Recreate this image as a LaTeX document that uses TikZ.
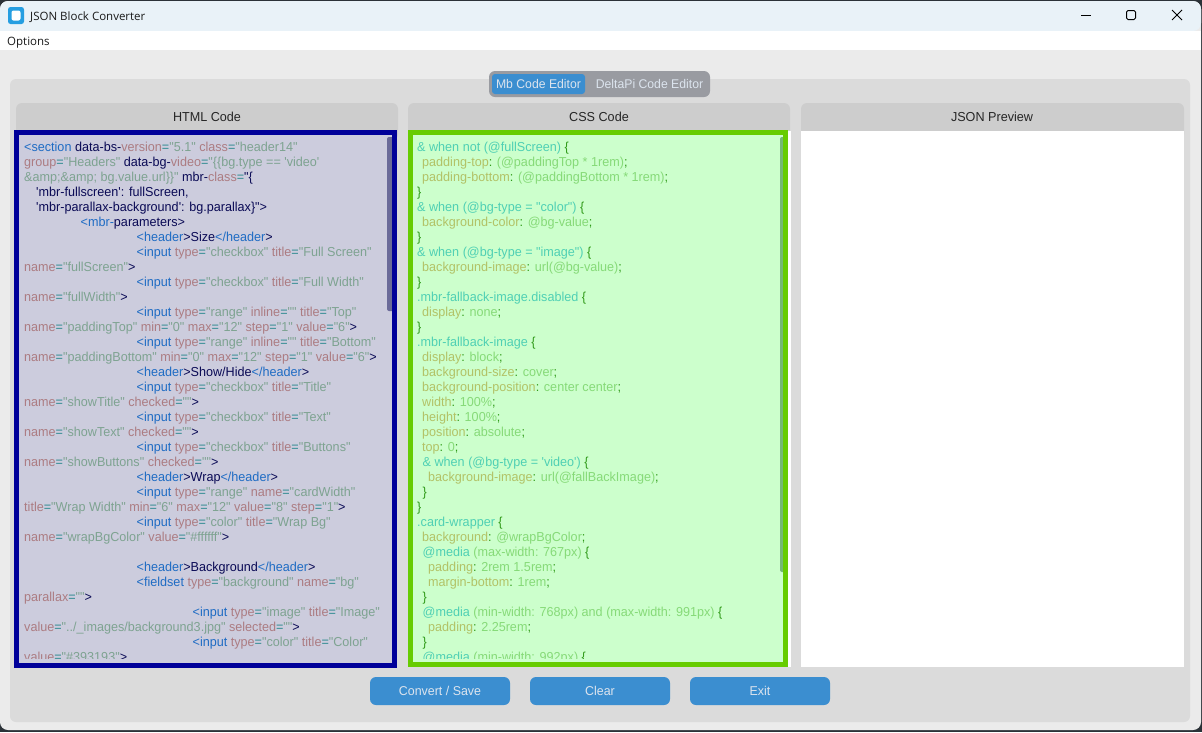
\documentclass[tikz,border=0pt]{standalone}
\usepackage{fontspec}
\newfontfamily\codefont[Ligatures=NoCommon,FakeStretch=0.97]{Liberation Sans}
\newfontfamily\uifont[Ligatures=NoCommon]{Open Sans}
\definecolor{desk}{HTML}{2B3238}
\definecolor{winbg}{HTML}{EBEBEB}
\definecolor{titlebg}{HTML}{E9F2F8}
\definecolor{panel}{HTML}{DBDBDB}
\definecolor{headbg}{HTML}{CDCDCD}
\definecolor{accent}{HTML}{3B8ED0}
\definecolor{seggray}{HTML}{999BA1}
\definecolor{lighttxt}{HTML}{DCE4EE}
\definecolor{htmlborder}{HTML}{000099}
\definecolor{htmlbg}{HTML}{CCCCDD}
\definecolor{htmlbar}{HTML}{6A6A98}
\definecolor{cssborder}{HTML}{66CC00}
\definecolor{cssbg}{HTML}{CCFFCC}
\definecolor{cssbar}{HTML}{74B874}
\definecolor{ctag}{HTML}{1F6CC4}
\definecolor{cattr}{HTML}{AC7C82}
\definecolor{cstr}{HTML}{7EA391}
\definecolor{cplain}{HTML}{0A0A55}
\definecolor{ceq}{HTML}{2F8A90}
\definecolor{csel}{HTML}{4FD0B4}
\definecolor{cprop}{HTML}{B2C266}
\definecolor{cval}{HTML}{86DA78}
\definecolor{cpun}{HTML}{2F9A18}
% html tokens
\newcommand{\Tg}[1]{\textcolor{ctag}{#1}}
\newcommand{\At}[1]{\textcolor{cattr}{#1}}
\newcommand{\Sv}[1]{\textcolor{cstr}{#1}}
\newcommand{\Pl}[1]{\textcolor{cplain}{#1}}
\newcommand{\Eq}{\textcolor{ceq}{=}}
\newcommand{\Cl}{\textcolor{cplain}{>}}
% css tokens
\newcommand{\Se}[1]{\textcolor{csel}{#1}}
\newcommand{\Pp}[1]{\textcolor{cprop}{#1}}
\newcommand{\Vl}[1]{\textcolor{cval}{#1}}
\newcommand{\Pu}[1]{\textcolor{cpun}{#1}}
\newcounter{hline}
\newcounter{cline}
\newcommand{\hl}[2]{\stepcounter{hline}\node[codeline] (h\arabic{hline}) at (#1,{136.4+15*\arabic{hline}}) {#2};}
\newcommand{\cl}[2]{\stepcounter{cline}\node[codeline] (c\arabic{cline}) at (#1,{136.4+15*\arabic{cline}}) {#2};}
\tikzset{
  codeline/.style={anchor=base west,inner sep=0pt,font=\codefont\fontsize{13}{15}\selectfont},
  headtext/.style={inner sep=0pt,text=black!85,font=\codefont\fontsize{13}{15}\selectfont},
  btn/.style={draw=none,fill=accent,rounded corners=6pt,minimum width=140pt,minimum height=28pt,inner sep=0pt,text=lighttxt,font=\codefont\fontsize{12.8}{15}\selectfont},
  segtext/.style={inner sep=0pt,text=lighttxt,font=\codefont\fontsize{12.6}{15}\selectfont},
  uitext/.style={anchor=base west,inner sep=0pt,text=black!90,font=\uifont\fontsize{11.5}{14}\selectfont}
}
\begin{document}
\begin{tikzpicture}[x=1pt,y=-1pt]
\useasboundingbox (0,0) rectangle (1202,732);
\fill[desk] (0,0) rectangle (1202,732);
\fill[winbg,rounded corners=8pt] (0,1) rectangle (1201,730);
% title bar and menu
\fill[titlebg,rounded corners=8pt] (0,31) -- (0,1) -- (1201,1) -- (1201,31) [sharp corners] -- cycle;
\fill[white] (0,31) rectangle (1201,50);
\fill[accent!70!cyan!90!blue,rounded corners=2.5pt] (8,7) rectangle (24,24);
\fill[white,rounded corners=2pt] (11.5,10.5) rectangle (20.5,20.5);
\node[uitext] (title) at (30,20.2) {JSON Block Converter};
\node[uitext] (menu) at (7,45) {Options};
\draw[black,line width=1pt] (1081,15.5) -- (1091,15.5);
\draw[black,line width=1pt,rounded corners=1.5pt] (1126.5,10.5) rectangle (1135.5,19.5);
\draw[black,line width=0.9pt] (1172,10) -- (1182,20) (1182,10) -- (1172,20);
% main panel
\fill[panel,rounded corners=6pt] (10,79) rectangle (1190,722);
% column headers
\fill[headbg,rounded corners=6pt] (16,103) rectangle (398,140);
\fill[headbg,rounded corners=6pt] (408,103) rectangle (790,140);
\fill[headbg,rounded corners=6pt] (801,103) rectangle (1184,140);
\node[headtext] (hhead) at (207,117) {HTML Code};
\node[headtext] (chead) at (599,117) {CSS Code};
\node[headtext] (jhead) at (992,117) {JSON Preview};
% preview and white strip
\fill[white] (801,131) rectangle (1184,667);
\fill[white] (408,131) rectangle (791,667);
% html editor
\fill[htmlborder] (14,130) rectangle (397,668);
\fill[htmlbg] (19,135) rectangle (392,663);
\fill[htmlbar,rounded corners=2pt] (387,137) rectangle (394,311);
\fill[htmlborder] (392,130) rectangle (397,668);
% css editor
\fill[cssborder] (408,130) rectangle (788,667);
\fill[cssbg] (413,135) rectangle (783,662);
\fill[cssbar,rounded corners=2pt] (780,137) rectangle (785,572);
\fill[cssborder] (783,130) rectangle (788,667);
% segmented control
\fill[seggray,rounded corners=6pt] (489,71) rectangle (710,97);
\fill[accent,rounded corners=3pt] (492,74) rectangle (585,94);
\node[segtext] (seg1) at (538.5,83.5) {Mb Code Editor};
\node[segtext] (seg2) at (649.5,83.5) {DeltaPi Code Editor};
% html code
\begin{scope}
\clip (19,135) rectangle (387,658);
\hl{24}{\Tg{<section} \Pl{data-bs-}\At{version}\Eq\Sv{"5.1"} \At{class}\Eq\Sv{"header14"}}
\hl{24}{\At{group}\Eq\Sv{"Headers"} \Pl{data-bg-}\At{video}\Eq\Sv{"\{\{bg.type == 'video'}}
\hl{24}{\Sv{\&amp;\&amp; bg.value.url\}\}"} \Pl{mbr-}\At{class}\Eq\Pl{"\{}}
\hl{36}{\Pl{'mbr-fullscreen': fullScreen,}}
\hl{36}{\Pl{'mbr-parallax-background': bg.parallax\}">}}
\hl{80.5}{\Tg{<mbr-}\Pl{parameters>}}
\hl{136.5}{\Tg{<header}\Cl\Pl{Size}\Tg{</header}\Cl}
\hl{136.5}{\Tg{<input} \At{type}\Eq\Sv{"checkbox"} \At{title}\Eq\Sv{"Full Screen"}}
\hl{24}{\At{name}\Eq\Sv{"fullScreen"}\Cl}
\hl{136.5}{\Tg{<input} \At{type}\Eq\Sv{"checkbox"} \At{title}\Eq\Sv{"Full Width"}}
\hl{24}{\At{name}\Eq\Sv{"fullWidth"}\Cl}
\hl{136.5}{\Tg{<input} \At{type}\Eq\Sv{"range"} \At{inline}\Eq\Sv{""} \At{title}\Eq\Sv{"Top"}}
\hl{24}{\At{name}\Eq\Sv{"paddingTop"} \At{min}\Eq\Sv{"0"} \At{max}\Eq\Sv{"12"} \At{step}\Eq\Sv{"1"} \At{value}\Eq\Sv{"6"}\Cl}
\hl{136.5}{\Tg{<input} \At{type}\Eq\Sv{"range"} \At{inline}\Eq\Sv{""} \At{title}\Eq\Sv{"Bottom"}}
\hl{24}{\At{name}\Eq\Sv{"paddingBottom"} \At{min}\Eq\Sv{"0"} \At{max}\Eq\Sv{"12"} \At{step}\Eq\Sv{"1"} \At{value}\Eq\Sv{"6"}\Cl}
\hl{136.5}{\Tg{<header}\Cl\Pl{Show/Hide}\Tg{</header}\Cl}
\hl{136.5}{\Tg{<input} \At{type}\Eq\Sv{"checkbox"} \At{title}\Eq\Sv{"Title"}}
\hl{24}{\At{name}\Eq\Sv{"showTitle"} \At{checked}\Eq\Sv{""}\Cl}
\hl{136.5}{\Tg{<input} \At{type}\Eq\Sv{"checkbox"} \At{title}\Eq\Sv{"Text"}}
\hl{24}{\At{name}\Eq\Sv{"showText"} \At{checked}\Eq\Sv{""}\Cl}
\hl{136.5}{\Tg{<input} \At{type}\Eq\Sv{"checkbox"} \At{title}\Eq\Sv{"Buttons"}}
\hl{24}{\At{name}\Eq\Sv{"showButtons"} \At{checked}\Eq\Sv{""}\Cl}
\hl{136.5}{\Tg{<header}\Cl\Pl{Wrap}\Tg{</header}\Cl}
\hl{136.5}{\Tg{<input} \At{type}\Eq\Sv{"range"} \At{name}\Eq\Sv{"cardWidth"}}
\hl{24}{\At{title}\Eq\Sv{"Wrap Width"} \At{min}\Eq\Sv{"6"} \At{max}\Eq\Sv{"12"} \At{value}\Eq\Sv{"8"} \At{step}\Eq\Sv{"1"}\Cl}
\hl{136.5}{\Tg{<input} \At{type}\Eq\Sv{"color"} \At{title}\Eq\Sv{"Wrap Bg"}}
\hl{24}{\At{name}\Eq\Sv{"wrapBgColor"} \At{value}\Eq\Sv{"\#ffffff"}\Cl}
\stepcounter{hline}
\hl{136.5}{\Tg{<header}\Cl\Pl{Background}\Tg{</header}\Cl}
\hl{136.5}{\Tg{<fieldset} \At{type}\Eq\Sv{"background"} \At{name}\Eq\Sv{"bg"}}
\hl{24}{\At{parallax}\Eq\Sv{""}\Cl}
\hl{192.5}{\Tg{<input} \At{type}\Eq\Sv{"image"} \At{title}\Eq\Sv{"Image"}}
\hl{24}{\At{value}\Eq\Sv{"../\_images/background3.jpg"} \At{selected}\Eq\Sv{""}\Cl}
\hl{192.5}{\Tg{<input} \At{type}\Eq\Sv{"color"} \At{title}\Eq\Sv{"Color"}}
\hl{24}{\At{value}\Eq\Sv{"\#393193"}\Cl}
\end{scope}
% css code
\begin{scope}
\clip (413,135) rectangle (780,658);
\cl{417}{\Se{\& when not (@fullScreen)} \Pu{\{}}
\cl{422}{\Pp{padding-top}\Pu{:} \Vl{(@paddingTop * 1rem)}\Pu{;}}
\cl{422}{\Pp{padding-bottom}\Pu{:} \Vl{(@paddingBottom * 1rem)}\Pu{;}}
\cl{417}{\Pu{\}}}
\cl{417}{\Se{\& when (@bg-type = "color")} \Pu{\{}}
\cl{422}{\Pp{background-color}\Pu{:} \Vl{@bg-value}\Pu{;}}
\cl{417}{\Pu{\}}}
\cl{417}{\Se{\& when (@bg-type = "image")} \Pu{\{}}
\cl{422}{\Pp{background-image}\Pu{:} \Vl{url(@bg-value)}\Pu{;}}
\cl{417}{\Pu{\}}}
\cl{417}{\Se{.mbr-fallback-image.disabled} \Pu{\{}}
\cl{422}{\Pp{display}\Pu{:} \Vl{none}\Pu{;}}
\cl{417}{\Pu{\}}}
\cl{417}{\Se{.mbr-fallback-image} \Pu{\{}}
\cl{422}{\Pp{display}\Pu{:} \Vl{block}\Pu{;}}
\cl{422}{\Pp{background-size}\Pu{:} \Vl{cover}\Pu{;}}
\cl{422}{\Pp{background-position}\Pu{:} \Vl{center center}\Pu{;}}
\cl{422}{\Pp{width}\Pu{:} \Vl{100\%}\Pu{;}}
\cl{422}{\Pp{height}\Pu{:} \Vl{100\%}\Pu{;}}
\cl{422}{\Pp{position}\Pu{:} \Vl{absolute}\Pu{;}}
\cl{422}{\Pp{top}\Pu{:} \Vl{0}\Pu{;}}
\cl{422.5}{\Se{\& when (@bg-type = 'video')} \Pu{\{}}
\cl{428}{\Pp{background-image}\Pu{:} \Vl{url(@fallBackImage)}\Pu{;}}
\cl{422.5}{\Pu{\}}}
\cl{417}{\Pu{\}}}
\cl{417}{\Se{.card-wrapper} \Pu{\{}}
\cl{422}{\Pp{background}\Pu{:} \Vl{@wrapBgColor}\Pu{;}}
\cl{422.5}{\Se{@media} \Vl{(max-width: 767px)} \Pu{\{}}
\cl{428}{\Pp{padding}\Pu{:} \Vl{2rem 1.5rem}\Pu{;}}
\cl{428}{\Pp{margin-bottom}\Pu{:} \Vl{1rem}\Pu{;}}
\cl{422.5}{\Pu{\}}}
\cl{422.5}{\Se{@media} \Vl{(min-width: 768px) and (max-width: 991px)} \Pu{\{}}
\cl{428}{\Pp{padding}\Pu{:} \Vl{2.25rem}\Pu{;}}
\cl{422.5}{\Pu{\}}}
\cl{422.5}{\Se{@media} \Vl{(min-width: 992px)} \Pu{\{}}
\end{scope}
% buttons
\node[btn] (convert) at (440,691) {Convert / Save};
\node[btn] (clear) at (600,691) {Clear};
\node[btn] (exit) at (760,691) {Exit};
\end{tikzpicture}
\end{document}
